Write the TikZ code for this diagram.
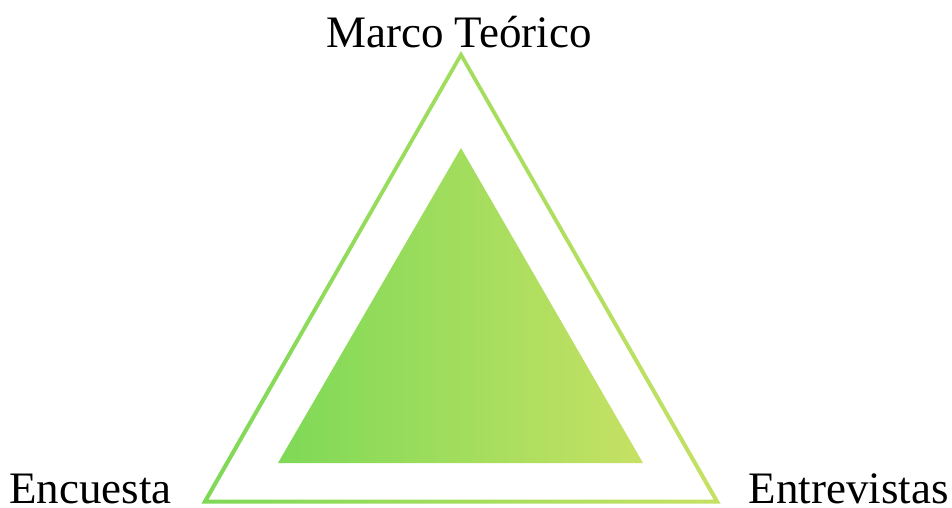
\documentclass[tikz,border=0pt]{standalone}
\usepackage{fontspec}
\setmainfont{Liberation Serif}
\usetikzlibrary{positioning}
\definecolor{leftcol}{HTML}{7ED957}
\definecolor{rightcol}{HTML}{C6E164}
\tikzset{
  lbl/.style={inner sep=0pt, text depth=0pt, font=\fontsize{22.5}{27}\selectfont},
  ring/.style={even odd rule, left color=leftcol, right color=rightcol},
  core/.style={left color=leftcol, right color=rightcol},
}

\begin{document}
\begin{tikzpicture}[x=0.5pt, y=-0.5pt]
  \useasboundingbox (0,0) rectangle (952,508);
  % outline of the big triangle
  \shade[ring] (461,51) -- (201.5,503.5) -- (720.5,503.5) -- cycle
               (461,58.5) -- (208.5,499.5) -- (713.5,499.5) -- cycle;
  % filled inner triangle
  \coordinate (top) at (461,148);
  \coordinate (bl)  at (278,463);
  \coordinate (br)  at (643,463);
  \shade[core] (top) -- (bl) -- (br) -- cycle;
  \node[lbl, anchor=base] (marco) at (459,48) {Marco Teórico};
  \node[lbl, anchor=base west] (encu) at (9,503) {Encuesta};
  \node[lbl, anchor=base east] (entre) at (949,503) {Entrevistas};
\end{tikzpicture}
\end{document}
